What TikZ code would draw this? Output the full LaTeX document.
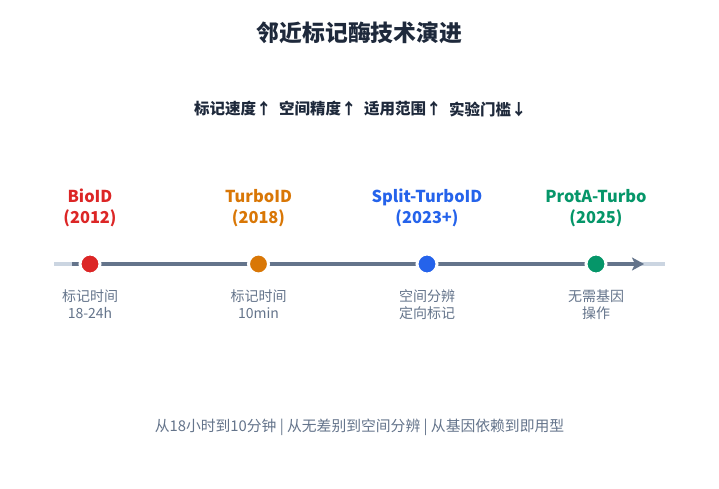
\documentclass[tikz,border=0pt]{standalone}
\usepackage{fontspec}
\setmainfont{Noto Sans CJK SC}
\usetikzlibrary{arrows.meta}
\definecolor{titlec}{HTML}{1E293B}
\definecolor{grayc}{HTML}{64748B}
\definecolor{lightc}{HTML}{CBD5E1}
\definecolor{redc}{HTML}{DC2626}
\definecolor{orangec}{HTML}{D97706}
\definecolor{bluec}{HTML}{2563EB}
\definecolor{greenc}{HTML}{059669}
\tikzset{
  dotnode/.style={circle, fill=#1, draw=white, line width=3pt, minimum size=20pt, inner sep=0pt},
  namelabel/.style={font=\fontsize{16.4}{21}\selectfont\bfseries, text=#1, align=center, inner sep=0pt},
  desclabel/.style={font=\fontsize{14}{17}\selectfont, text=grayc, align=center, inner sep=0pt},
  featlabel/.style={font=\fontsize{15.5}{18}\selectfont\bfseries, text=titlec, anchor=west, inner sep=0pt},
}
\begin{document}
\begin{tikzpicture}[x=1pt,y=-1pt]
\useasboundingbox[fill=white] (0,0) rectangle (719,489);
\node[font=\fontsize{22.8}{27}\selectfont\bfseries, text=titlec, inner sep=0pt] (title) at (359.5,33) {邻近标记酶技术演进};
\node[featlabel] (f1) at (194,109) {标记速度↑};
\node[featlabel] (f2) at (279,109) {空间精度↑};
\node[featlabel] (f3) at (364,109) {适用范围↑};
\node[featlabel] (f4) at (449,109) {实验门槛↓};
% timeline
\coordinate (ls) at (54,264);
\coordinate (le) at (665,264);
\coordinate (ds) at (72,264);
\coordinate (de) at (644,264);
\draw[lightc, line width=4pt] (ls) -- (le);
\draw[grayc, line width=4pt, -{Stealth[length=12pt,width=13pt,inset=3pt]}] (ds) -- (de);
\node[dotnode=redc] (d1) at (90,264) {};
\node[dotnode=orangec] (d2) at (258.5,264) {};
\node[dotnode=bluec] (d3) at (427,264) {};
\node[dotnode=greenc] (d4) at (596,264) {};
% names
\node[namelabel=redc] (n1) at (90,208) {BioID\\(2012)};
\node[namelabel=orangec] (n2) at (258.5,208) {TurboID\\(2018)};
\node[namelabel=bluec] (n3) at (427,208) {Split-TurboID\\(2023+)};
\node[namelabel=greenc] (n4) at (596,208) {ProtA-Turbo\\(2025)};
% descriptions
\node[desclabel] (t1) at (90,304.5) {标记时间\\18-24h};
\node[desclabel] (t2) at (258.5,304.5) {标记时间\\10min};
\node[desclabel] (t3) at (427,304.5) {空间分辨\\定向标记};
\node[desclabel] (t4) at (596,304.5) {无需基因\\操作};
% caption
\node[font=\fontsize{14.8}{18}\selectfont, text=grayc, inner sep=0pt] (cap) at (359.5,427) {从18小时到10分钟 | 从无差别到空间分辨 | 从基因依赖到即用型};
\end{tikzpicture}
\end{document}
